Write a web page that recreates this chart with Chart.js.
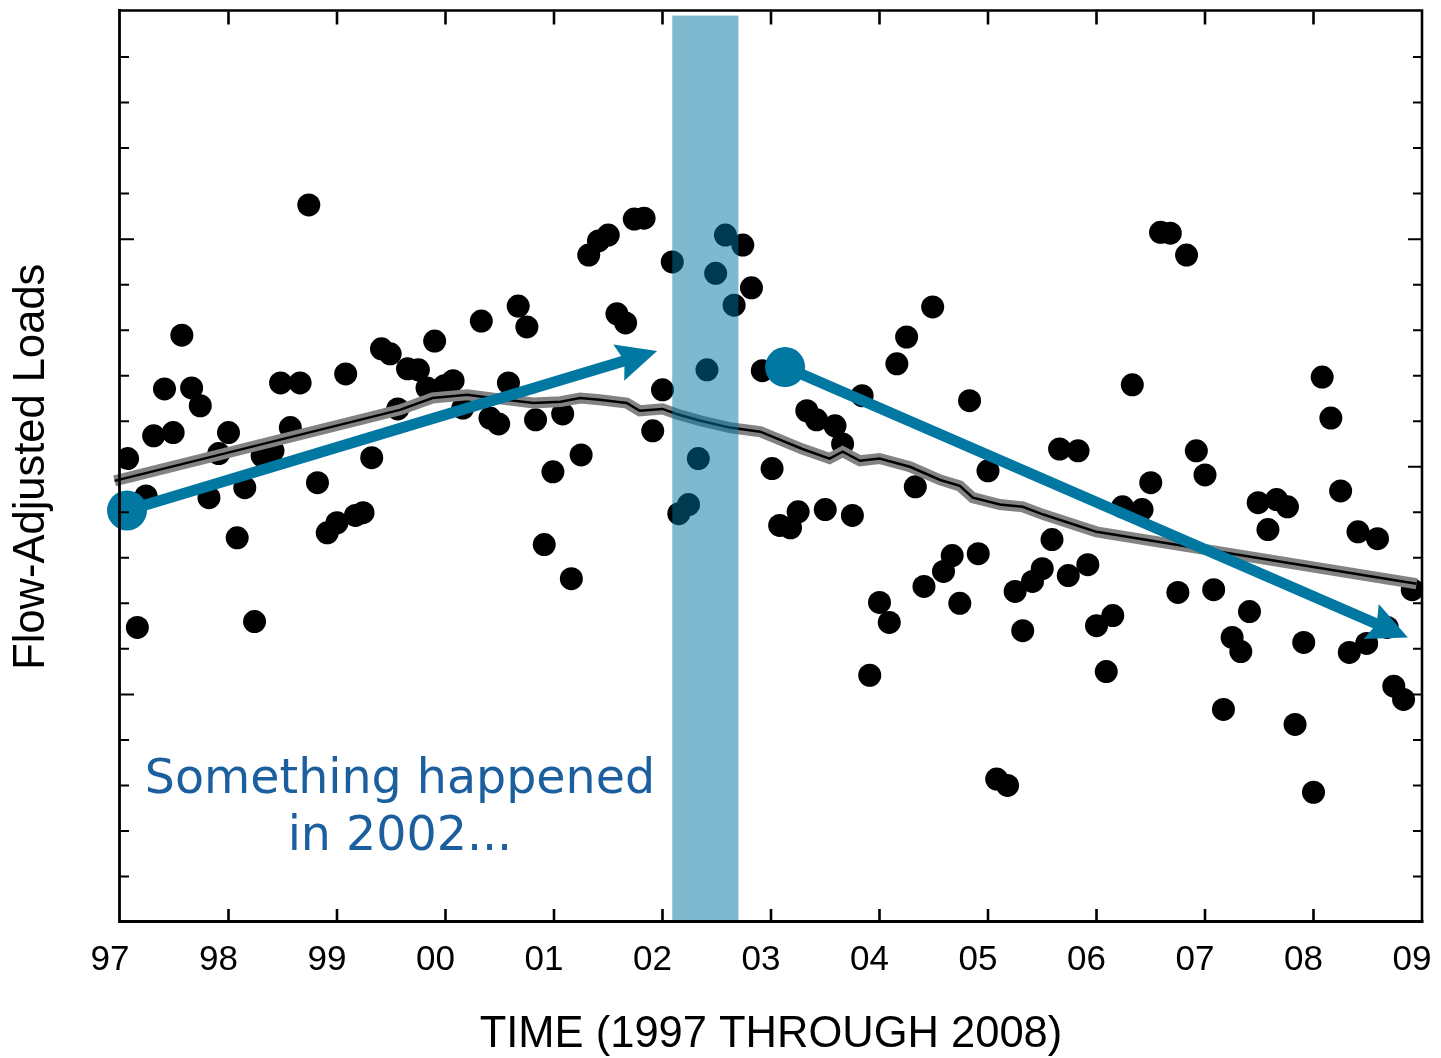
<!DOCTYPE html>
<html>
<head>
<meta charset="utf-8">
<script src="https://cdn.jsdelivr.net/npm/chart.js@4.4.0/dist/chart.umd.min.js"></script>
<style>
html,body{margin:0;padding:0;background:#fff;}
#wrap{width:1441px;height:1058px;position:relative;}
</style>
</head>
<body>
<div id="wrap"><canvas id="c" width="1441" height="1058"></canvas></div>
<script>
// ---------- DATA ----------
const yearTickLabels = ['97','98','99','00','01','02','03','04','05','06','07','08','09'];

const pointYears = [
 1996.97,1997.07,1997.16,1997.24,1997.31,1997.41,1997.49,1997.57,1997.66,1997.74,1997.82,1997.91,
 1998.00,1998.08,1998.15,1998.24,1998.31,1998.41,1998.48,1998.57,1998.66,1998.74,1998.82,1998.91,
 1999.00,1999.08,1999.17,1999.24,1999.32,1999.41,1999.49,1999.56,1999.65,1999.75,1999.83,1999.90,1999.99,
 2000.07,2000.16,2000.33,2000.41,2000.49,2000.58,2000.67,2000.75,2000.83,2000.91,2000.99,
 2001.08,2001.16,2001.25,2001.32,2001.41,2001.50,2001.58,2001.66,2001.74,2001.83,2001.91,
 2002.00,2002.09,2002.15,2002.24,2002.33,2002.41,2002.49,2002.58,2002.66,2002.74,2002.82,2002.92,
 2003.01,2003.08,2003.18,2003.25,2003.33,2003.42,2003.50,2003.59,2003.66,2003.75,2003.84,2003.91,
 2004.00,2004.09,2004.16,2004.25,2004.33,2004.41,2004.49,2004.59,2004.67,2004.74,2004.83,2004.91,
 2005.00,2005.08,2005.18,2005.25,2005.32,2005.41,2005.50,2005.59,2005.66,2005.74,2005.83,2005.92,
 2006.00,2006.09,2006.15,2006.24,2006.33,2006.42,2006.50,2006.59,2006.68,2006.75,2006.83,2006.92,
 2007.00,2007.08,2007.17,2007.25,2007.33,2007.41,2007.49,2007.58,2007.66,2007.76,2007.83,2007.91,
 2008.00,2008.08,2008.16,2008.25,2008.33,2008.41,2008.49,2008.59,2008.68,2008.74,2008.83,2008.91
];
const pointLoads = [
 8.88,10.18,6.47,9.36,10.68,11.71,10.75,12.89,11.73,11.34,9.32,10.29,
 10.75,8.44,9.54,6.60,10.24,10.35,11.84,10.86,11.84,15.75,9.65,8.55,
 8.77,12.04,8.93,8.99,10.20,12.59,12.48,11.27,12.15,12.13,11.73,12.76,11.78,
 11.89,11.29,13.20,11.07,10.94,11.84,13.53,13.07,11.03,8.29,9.89,
 11.16,7.54,10.26,14.65,14.96,15.09,13.36,13.16,15.44,15.46,10.79,
 11.69,14.50,8.97,9.17,10.18,12.13,14.25,15.09,13.55,14.87,13.93,12.11,
 9.96,8.71,8.66,9.01,11.23,11.03,9.06,10.90,10.50,8.93,11.56,5.42,
 7.02,6.58,12.26,12.85,9.56,7.37,13.51,7.70,8.05,7.00,11.45,8.09,
 9.91,3.14,3.00,7.26,6.40,7.48,7.76,8.40,10.39,7.61,10.35,7.85,
 6.51,5.50,6.73,9.12,11.80,9.06,9.65,15.15,15.13,7.24,14.65,10.35,
 9.82,7.30,4.67,6.25,5.94,6.82,9.21,8.62,9.28,9.12,4.34,6.14,
 2.85,11.97,11.07,9.47,5.92,8.57,6.12,8.42,6.47,5.18,4.89,7.30
];

const trendYears = [1996.95,1999.58,1999.88,2000.20,2000.50,2000.81,2001.06,2001.24,2001.42,2001.67,2001.79,
 2002.00,2002.13,2002.35,2002.62,2002.90,2003.29,2003.54,2003.66,2003.82,2004.00,2004.28,2004.56,2004.74,
 2004.86,2005.11,2005.32,2005.51,2005.82,2006.00,2008.95];
const trendLoads = [9.69,11.25,11.51,11.58,11.49,11.40,11.43,11.51,11.47,11.40,11.23,
 11.27,11.16,11.01,10.86,10.77,10.39,10.18,10.33,10.13,10.18,10.00,9.71,9.58,
 9.32,9.17,9.12,8.95,8.71,8.57,7.43];

const bandYears = [2002.09, 2002.70];
const bandLoads = [0, 19.91];

const arrowStartYears = [1997.065, 2003.13];
const arrowStartLoads = [9.04, 12.19];
const arrowTipYears = [2001.95, 2008.87];
const arrowTipLoads = [12.54, 6.25];

const noteLines = ['Something happened', 'in 2002...'];
const noteYear = 1999.58;
const noteLoads = [2.83, 1.58];

const xTitle = 'TIME (1997 THROUGH 2008)';
const yTitle = 'Flow-Adjusted Loads';

// ---------- STYLE ----------
const ARROW_COLOR = '#0078a2';
const BAND_COLOR = 'rgba(0,116,160,0.5)';
const NOTE_COLOR = '#1b5f9e';
const SANS = '"Liberation Sans", Arial, sans-serif';

const points = pointYears.map((x, i) => ({x, y: pointLoads[i]}));
const trend = trendYears.map((x, i) => ({x, y: trendLoads[i]}));

const decor = {
  id: 'decor',
  afterDatasetsDraw(chart) {
    const {ctx, chartArea: a, scales: {x, y}} = chart;
    ctx.save();
    // arrows
    for (let i = 0; i < arrowStartYears.length; i++) {
      const x0 = x.getPixelForValue(arrowStartYears[i]), y0 = y.getPixelForValue(arrowStartLoads[i]);
      const x1 = x.getPixelForValue(arrowTipYears[i]), y1 = y.getPixelForValue(arrowTipLoads[i]);
      const ang = Math.atan2(y1 - y0, x1 - x0);
      const c = Math.cos(ang), s = Math.sin(ang);
      const headLen = 40, headW = 38;
      const bx = x1 - headLen * c, by = y1 - headLen * s;
      ctx.strokeStyle = ARROW_COLOR; ctx.fillStyle = ARROW_COLOR;
      ctx.lineWidth = 11; ctx.lineCap = 'butt';
      ctx.beginPath(); ctx.moveTo(x0, y0); ctx.lineTo(bx + 8 * c, by + 8 * s); ctx.stroke();
      const px = -s, py = c;
      ctx.beginPath();
      ctx.moveTo(x1, y1);
      ctx.lineTo(bx + px * headW / 2, by + py * headW / 2);
      ctx.lineTo(bx + 6 * c, by + 6 * s);
      ctx.lineTo(bx - px * headW / 2, by - py * headW / 2);
      ctx.closePath(); ctx.fill();
      ctx.beginPath(); ctx.arc(x0, y0, 20, 0, Math.PI * 2); ctx.fill();
    }
    // band
    const bl = x.getPixelForValue(bandYears[0]), br = x.getPixelForValue(bandYears[1]);
    const bt = y.getPixelForValue(bandLoads[1]), bb = y.getPixelForValue(bandLoads[0]);
    ctx.fillStyle = BAND_COLOR;
    ctx.fillRect(bl, bt, br - bl, bb - bt);
    // note
    ctx.fillStyle = NOTE_COLOR;
    ctx.font = '47.5px "DejaVu Sans", Verdana, sans-serif';
    ctx.textAlign = 'center'; ctx.textBaseline = 'alphabetic';
    noteLines.forEach((t, i) => ctx.fillText(t, x.getPixelForValue(noteYear), y.getPixelForValue(noteLoads[i])));
    // frame
    ctx.strokeStyle = '#000'; ctx.lineCap = 'square';
    ctx.lineWidth = 2.8;
    ctx.beginPath();
    ctx.moveTo(a.left - 0.5, a.top - 1); ctx.lineTo(a.left - 0.5, a.bottom - 0.5); ctx.lineTo(a.right, a.bottom - 0.5);
    ctx.stroke();
    ctx.lineWidth = 2.6;
    ctx.beginPath();
    ctx.moveTo(a.left - 0.5, a.top - 1); ctx.lineTo(a.right, a.top - 1); ctx.lineTo(a.right, a.bottom - 0.5);
    ctx.stroke();
    // ticks
    ctx.lineCap = 'butt';
    ctx.lineWidth = 2.6;
    x.ticks.forEach(t => {
      if (t.value <= x.min || t.value >= x.max) return;
      const p = x.getPixelForValue(t.value);
      ctx.beginPath();
      ctx.moveTo(p, a.top); ctx.lineTo(p, a.top + 13);
      ctx.moveTo(p, a.bottom); ctx.lineTo(p, a.bottom - 13);
      ctx.stroke();
    });
    ctx.lineWidth = 2;
    y.ticks.forEach(t => {
      if (t.value <= y.min || t.value >= y.max) return;
      const p = y.getPixelForValue(t.value);
      const len = (t.value % 5 === 0) ? 14 : 9;
      ctx.beginPath();
      ctx.moveTo(a.left, p); ctx.lineTo(a.left + len, p);
      ctx.moveTo(a.right, p); ctx.lineTo(a.right - len, p);
      ctx.stroke();
    });
    ctx.restore();
  }
};

new Chart(document.getElementById('c'), {
  type: 'scatter',
  data: {
    datasets: [
      {type: 'line', data: trend, showLine: true, borderColor: '#000', borderWidth: 2.5, pointRadius: 0, fill: false, tension: 0, clip: false, order: 0},
      {type: 'line', data: trend, showLine: true, borderColor: '#838383', borderWidth: 11, pointRadius: 0, fill: false, tension: 0, clip: false, order: 1, borderCapStyle: 'butt'},
      {data: points, backgroundColor: '#000', borderWidth: 0, pointRadius: 11.5, pointHoverRadius: 11.5, order: 2}
    ]
  },
  options: {
    responsive: false,
    animation: false,
    devicePixelRatio: 1,
    events: [],
    layout: {padding: {top: 10, right: 19, left: 0, bottom: 0}},
    plugins: {legend: {display: false}, tooltip: {enabled: false}},
    scales: {
      x: {
        type: 'linear', min: 1997, max: 2009,
        grid: {display: false, drawTicks: false, tickLength: 0},
        border: {display: false},
        ticks: {
          stepSize: 1, autoSkip: false, maxRotation: 0, padding: 17, labelOffset: -10,
          color: '#000', font: {family: SANS, size: 35},
          callback: (v, i) => yearTickLabels[i]
        },
        title: {display: true, text: xTitle, color: '#000', font: {family: SANS, size: 43.5, lineHeight: 1}, padding: {top: 0, bottom: 1}},
        afterFit: s => { s.height = 136; s.paddingLeft = 0; s.paddingRight = 0; }
      },
      y: {
        type: 'linear', min: 0, max: 20,
        grid: {display: false, drawTicks: false, tickLength: 0},
        border: {display: false},
        ticks: {stepSize: 1, display: false},
        title: {display: true, text: yTitle, color: '#000', font: {family: SANS, size: 43.5, lineHeight: 1}, padding: {top: 10, bottom: 0}},
        afterFit: s => { s.width = 120; }
      }
    }
  },
  plugins: [decor]
});
</script>
</body>
</html>
